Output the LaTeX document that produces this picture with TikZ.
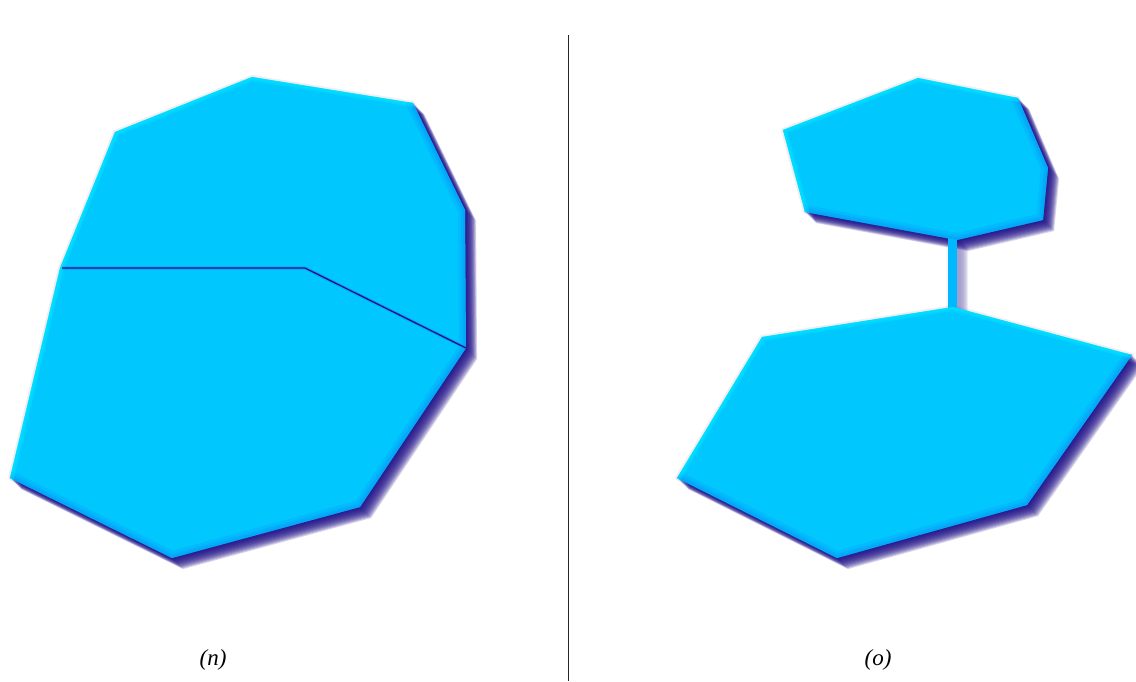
\documentclass[tikz,border=0pt]{standalone}
\usepackage{fontspec}
\setmainfont{Liberation Serif}
\definecolor{cfill}{HTML}{00C8FF}
\definecolor{clight}{HTML}{00EEFF}
\definecolor{cdark}{HTML}{1E0F88}
\definecolor{cmid}{HTML}{0A8CF5}
\tikzset{
  shadowpass/.style={fill=cdark, opacity=0.18},
  darkedge/.style={draw=cmid, line width=#1, opacity=0.22, line join=round, line cap=round},
  lightedge/.style={draw=clight, line width=#1, opacity=0.35, line join=round, line cap=round},
  caption/.style={font=\itshape\fontsize{23}{27}\selectfont, inner sep=0pt},
  divider/.style={draw=black!85, line width=1pt}
}
\def\PA{(252,77) -- (413,103) -- (465,210) -- (466,348) -- (360,507) -- (172,558) -- (10,478) -- (60,268) -- (115,132) -- cycle}
\def\PB{(918,78) -- (1018,98) -- (1048,168) -- (1043,220) -- (957,240) -- (805,212) -- (783,130) -- cycle}
\def\PC{(953,307) -- (1132,355) -- (1027,505) -- (837,558) -- (677,478) -- (762,337) -- cycle}
\def\PBar{(948,236) rectangle (957,310)}
\newcommand\castshadow[1]{%
  \draw[cdark, opacity=0.07, line width=4pt, line join=round] #1;
  \foreach \k in {1,...,13}{%
    \begin{scope}[shift={(0.85*\k,0.85*\k)}]
      \fill[shadowpass] #1;
    \end{scope}}}
\begin{document}
\begin{tikzpicture}[x=1pt,y=-1pt]
\useasboundingbox (0,0) rectangle (1136,681);
\fill[white] (0,0) rectangle (1136,681);

% ---------- left panel ----------
\castshadow{\PA}
\fill[cfill] \PA;
\begin{scope}
  \clip \PA;
  \foreach \w in {14,8,4}{\draw[darkedge=\w pt] (413,103) -- (465,210) -- (466,348) -- (360,507) -- (172,558) -- (10,478);}
  \foreach \w in {8,4}{\draw[lightedge=\w pt] (10,478) -- (60,268) -- (115,132) -- (252,77) -- (413,103);}
  \draw[cmid, line width=3.5pt, opacity=0.45] (62,268) -- (305,268) -- (466,348);
  \draw[cdark, line width=1.3pt] (62,268) -- (305,268) -- (466,348);
\end{scope}

% ---------- right panel ----------
\castshadow{\PB}
\begin{scope}[transparency group, opacity=0.45]\castshadow{\PBar}\end{scope}
\castshadow{\PC}
\fill[cfill!92!blue] \PBar;
\fill[cfill] \PB;
\fill[cfill] \PC;
\begin{scope}
  \clip \PB;
  \foreach \w in {14,8,4}{\draw[darkedge=\w pt] (1018,98) -- (1048,168) -- (1043,220) -- (957,240) -- (805,212);}
  \foreach \w in {8,4}{\draw[lightedge=\w pt] (805,212) -- (783,130) -- (918,78) -- (1018,98);}
\end{scope}
\begin{scope}
  \clip \PC;
  \foreach \w in {14,8,4}{\draw[darkedge=\w pt] (1132,355) -- (1027,505) -- (837,558) -- (677,478);}
  \foreach \w in {8,4}{\draw[lightedge=\w pt] (677,478) -- (762,337) -- (953,307) -- (1132,355);}
\end{scope}

% ---------- divider and captions ----------
\coordinate (dtop) at (568,35);
\coordinate (dbot) at (568,681);
\draw[divider] (dtop) -- (dbot);
\node[caption] (labn) at (213,660) {(n)};
\node[caption] (labo) at (878,660) {(o)};
\end{tikzpicture}
\end{document}
